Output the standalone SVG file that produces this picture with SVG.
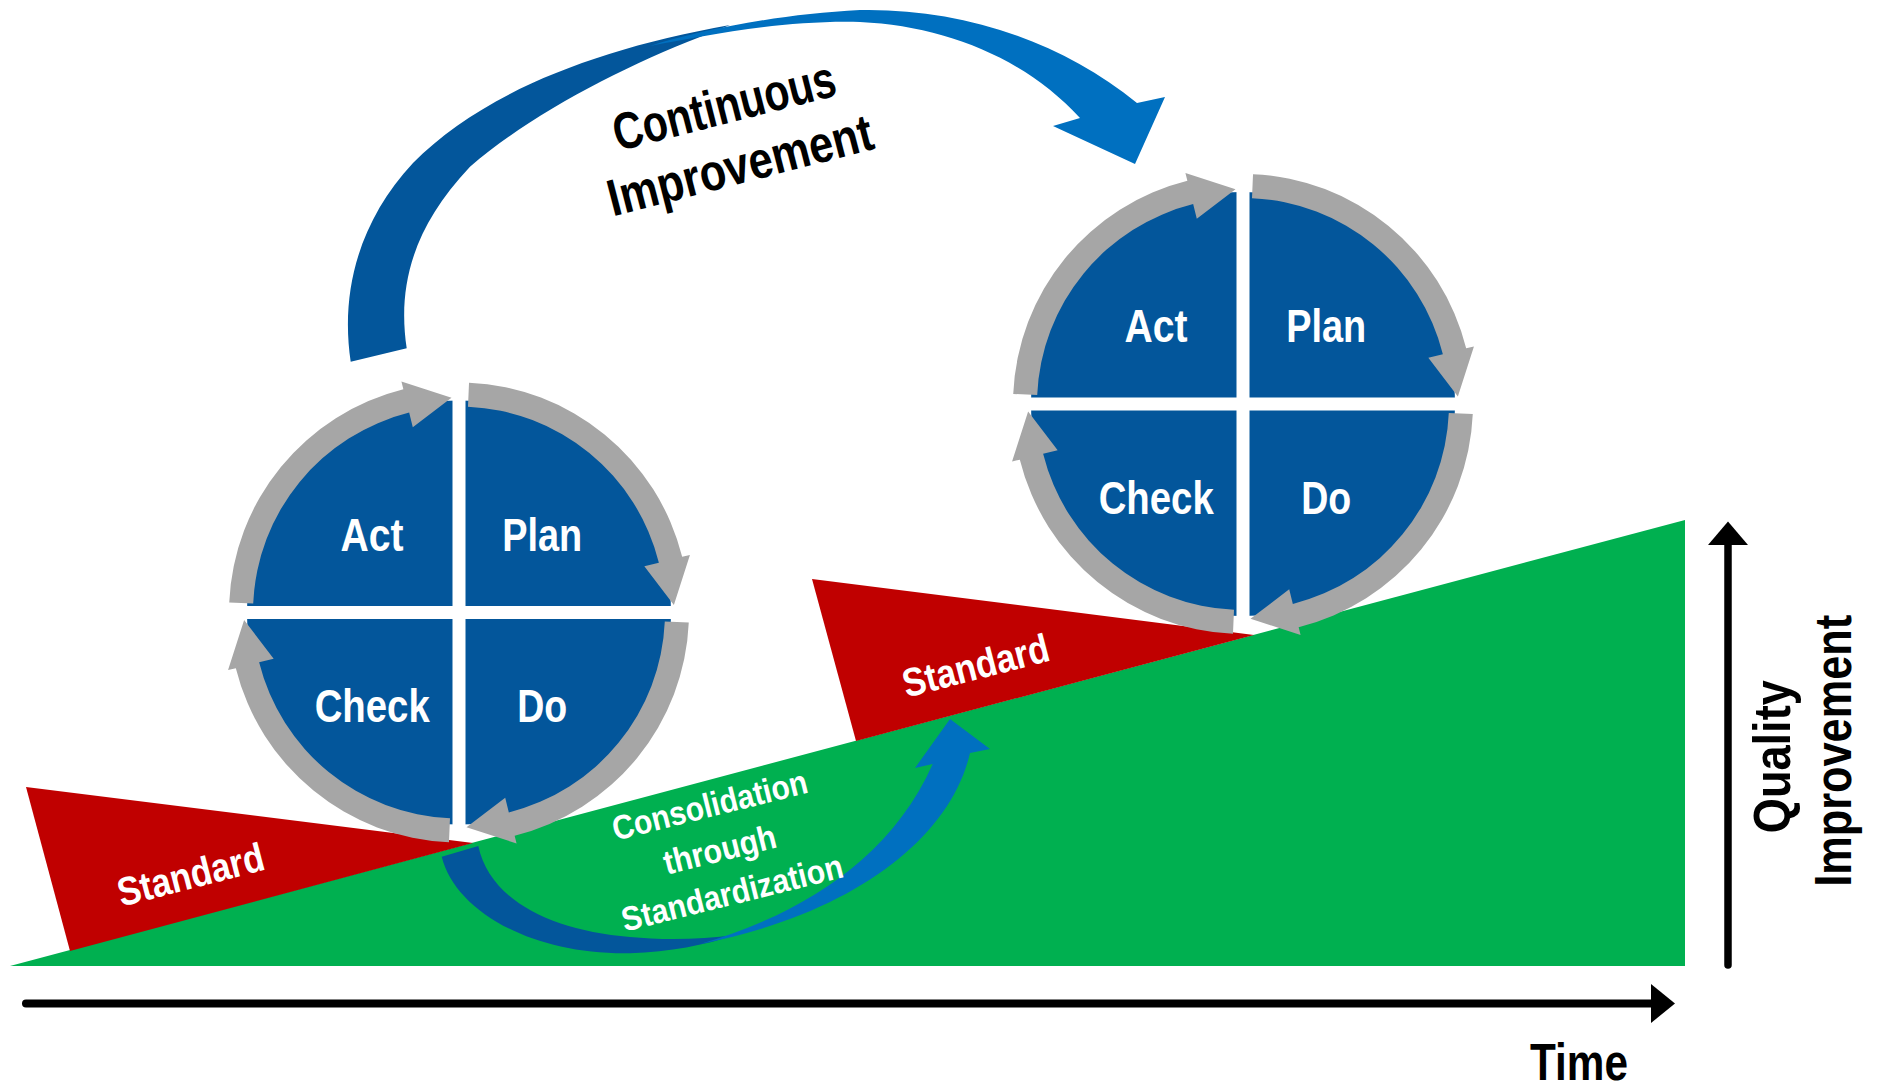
<svg xmlns="http://www.w3.org/2000/svg" xmlns:xlink="http://www.w3.org/1999/xlink" width="1877" height="1089" viewBox="0 0 1877 1089">
<style>
.lbl{font-family:"Liberation Sans",Arial,sans-serif;font-weight:bold;}
.q{fill:#ffffff;font-size:47px;}
.std{fill:#ffffff;font-size:40px;}
.con{fill:#ffffff;font-size:34px;}
.blk{fill:#000000;font-size:52px;}
.disk{fill:#03569B;}
.gap{fill:#ffffff;}
.gray{fill:#A6A6A6;}
</style>
<defs>
<path id="ga" d="M8.99,-205.80 L10.03,-229.78 A230,230 0 0 1 223.17,-55.64 L230.93,-57.58 L214.87,-7.50 L185.33,-46.21 L199.88,-49.84 A206,206 0 0 0 8.99,-205.80 Z"/>
</defs>
<rect width="1877" height="1089" fill="#ffffff"/>

<g id="ground">
<polygon points="10,966 1685,520 1685,966" fill="#00B050"/>
</g>
<g id="standard1">
<polygon points="26,787 70,951 473,843" fill="#C00000"/>
<text class="lbl std" text-anchor="middle" textLength="150" lengthAdjust="spacingAndGlyphs" transform="translate(194,888) rotate(-14.5)">Standard</text>
</g>
<g id="standard2">
<polygon points="812,579 856,741 1254,635" fill="#C00000"/>
<text class="lbl std" text-anchor="middle" textLength="150" lengthAdjust="spacingAndGlyphs" transform="translate(979,679) rotate(-14.5)">Standard</text>
</g>

<g id="connectors">
<g id="consolidation-arrow">
<path d="M441.7,856.7 C455,910 530,955 630,953.3 C670,952 705,945 735,935 C700,940 660,940 630,937 C550,930 490,900 478.3,846 Z" fill="#03569B"/>
<path d="M700,944 C800,915 890,860 932.7,764 L915,768 L950,719 L990,749 L970,753 C950,840 850,915 700,944 Z" fill="#0070C0"/>
</g>
<g id="improvement-arrow">
<path d="M350.7,361.7 C340,290 360,220 413,163 C480,95 590,50 730,25 L700,37 C620,68 530,115 470,166.7 C410,230 398,290 406.7,348.3 Z" fill="#03569B"/>
<path d="M650,46 C700,30 780,14 860,10 C960,8 1060,40 1137,103 L1165,97 L1135,164 L1053,126 L1080,118 C1025,58 945,26 860,22 C780,20 705,36 650,46 Z" fill="#0070C0"/>
</g>
<g id="time-axis">
<line x1="26" y1="1003.5" x2="1655" y2="1003.5" stroke="#000" stroke-width="8" stroke-linecap="round"/>
<polygon points="1651,984 1675,1003.5 1651,1023" fill="#000"/>
</g>
<g id="quality-axis">
<line x1="1728" y1="965" x2="1728" y2="542" stroke="#000" stroke-width="7.5" stroke-linecap="round"/>
<polygon points="1708,545 1728,521.5 1748,545" fill="#000"/>
</g>
</g>

<g id="pdca1" transform="translate(459,612.5)">
<circle class="disk" r="212"/>
<rect class="gap" x="-6.5" y="-216" width="13" height="432"/>
<rect class="gap" x="-216" y="-6.5" width="432" height="13"/>
<use xlink:href="#ga" class="gray"/>
<use xlink:href="#ga" class="gray" transform="rotate(90)"/>
<use xlink:href="#ga" class="gray" transform="rotate(180)"/>
<use xlink:href="#ga" class="gray" transform="rotate(270)"/>
<text class="lbl q" x="-118.5" y="-62" textLength="63" lengthAdjust="spacingAndGlyphs">Act</text>
<text class="lbl q" x="43.2" y="-62" textLength="80" lengthAdjust="spacingAndGlyphs">Plan</text>
<text class="lbl q" x="-144.3" y="109.5" textLength="115" lengthAdjust="spacingAndGlyphs">Check</text>
<text class="lbl q" x="58.2" y="109.5" textLength="50" lengthAdjust="spacingAndGlyphs">Do</text>
</g>

<g id="pdca2" transform="translate(1243,404)">
<circle class="disk" r="212"/>
<rect class="gap" x="-6.5" y="-216" width="13" height="432"/>
<rect class="gap" x="-216" y="-6.5" width="432" height="13"/>
<use xlink:href="#ga" class="gray"/>
<use xlink:href="#ga" class="gray" transform="rotate(90)"/>
<use xlink:href="#ga" class="gray" transform="rotate(180)"/>
<use xlink:href="#ga" class="gray" transform="rotate(270)"/>
<text class="lbl q" x="-118.5" y="-62" textLength="63" lengthAdjust="spacingAndGlyphs">Act</text>
<text class="lbl q" x="43.2" y="-62" textLength="80" lengthAdjust="spacingAndGlyphs">Plan</text>
<text class="lbl q" x="-144.3" y="109.5" textLength="115" lengthAdjust="spacingAndGlyphs">Check</text>
<text class="lbl q" x="58.2" y="109.5" textLength="50" lengthAdjust="spacingAndGlyphs">Do</text>
</g>

<g id="label-continuous">
<text class="lbl blk" text-anchor="middle" textLength="228" lengthAdjust="spacingAndGlyphs" transform="translate(728.5,123) rotate(-14.3)">Continuous</text>
<text class="lbl blk" text-anchor="middle" textLength="272" lengthAdjust="spacingAndGlyphs" transform="translate(744.5,182.5) rotate(-14.5)">Improvement</text>
</g>
<g id="label-consolidation">
<text class="lbl con" text-anchor="middle" textLength="200" lengthAdjust="spacingAndGlyphs" transform="translate(712.5,816.5) rotate(-14)">Consolidation</text>
<text class="lbl con" text-anchor="middle" textLength="115" lengthAdjust="spacingAndGlyphs" transform="translate(722.5,860.8) rotate(-14)">through</text>
<text class="lbl con" text-anchor="middle" textLength="227" lengthAdjust="spacingAndGlyphs" transform="translate(735,904.2) rotate(-14)">Standardization</text>
</g>
<g id="label-time">
<text class="lbl blk" x="1530" y="1080" textLength="98" lengthAdjust="spacingAndGlyphs">Time</text>
</g>
<g id="label-quality">
<text class="lbl blk" text-anchor="middle" textLength="153" lengthAdjust="spacingAndGlyphs" transform="translate(1790,756.7) rotate(-90)">Quality</text>
<text class="lbl blk" text-anchor="middle" textLength="272" lengthAdjust="spacingAndGlyphs" transform="translate(1851,750.8) rotate(-90)">Improvement</text>
</g>
</svg>
